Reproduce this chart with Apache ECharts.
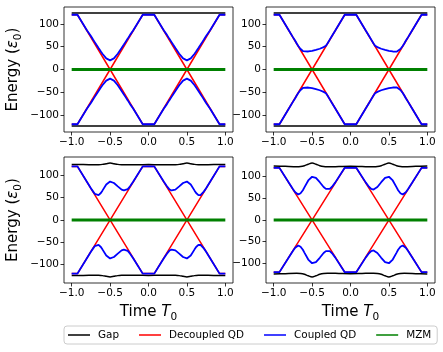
<!DOCTYPE html>
<html>
<head>
<meta charset="utf-8">
<script src="https://cdn.jsdelivr.net/npm/echarts@6/dist/echarts.min.js"></script>
<style>
  html, body { margin: 0; padding: 0; background: #fff; }
  #chart { width: 443px; height: 352px; }
</style>
</head>
<body>
<div id="chart"></div>
<script>
// time samples for the coupled QD branches
const timeGrid = [-1, -0.925, -0.8, -0.75, -0.72, -0.7, -0.68, -0.65, -0.62, -0.6, -0.55, -0.5, -0.45, -0.4, -0.35, -0.32, -0.3, -0.27, -0.24, -0.2, -0.075,
  0.075, 0.2, 0.24, 0.27, 0.3, 0.32, 0.35, 0.4, 0.45, 0.5, 0.55, 0.6, 0.62, 0.65, 0.68, 0.7, 0.72, 0.75, 0.8, 0.925, 1];

// decoupled QD (same in all panels)
const redTime = [-1, -0.925, -0.075, 0.075, 0.925, 1];
const redUp = [120, 120, -120, -120, 120, 120];
const redDown = [-120, -120, 120, 120, -120, -120];

// MZM
const mzmTime = [-1, 1];
const mzmValues = [0, 0];

// gap
const flatTime = [-1, 1];
const gapTopUp = [124, 124];
const gapTopDown = [-124, -124];
const gapTime = [-1, -0.85, -0.7, -0.65, -0.6, -0.55, -0.5, -0.45, -0.4, -0.35, -0.3, -0.15, 0, 0.15, 0.3, 0.35, 0.4, 0.45, 0.5, 0.55, 0.6, 0.65, 0.7, 0.85, 1];
const gapBLUp = [124, 124, 123.5, 123.8, 124.5, 126, 127.5, 126, 124.5, 123.8, 123.5, 123.8, 124, 123.8, 123.5, 123.8, 124.5, 126, 127.5, 126, 124.5, 123.8, 123.5, 124, 124];
const gapBLDown = [-124, -124, -123.5, -123.8, -124.5, -126, -127.5, -126, -124.5, -123.8, -123.5, -123.8, -124, -123.8, -123.5, -123.8, -124.5, -126, -127.5, -126, -124.5, -123.8, -123.5, -124, -124];
const gapBRUp = [124.5, 123.5, 122.5, 123, 125, 128.5, 131, 128.5, 125, 123, 122.5, 123, 123.5, 123, 122.5, 123, 125, 128.5, 131, 128.5, 125, 123, 122.5, 123.5, 124.5];
const gapBRDown = [-124.5, -123.5, -122.5, -123, -125, -128.5, -131, -128.5, -125, -123, -122.5, -123, -123.5, -123, -122.5, -123, -125, -128.5, -131, -128.5, -125, -123, -122.5, -123.5, -124.5];

// coupled QD
const coupledTLUp = [120, 120, 85.5, 73.4, 65.2, 60, 54.6, 46.9, 39.4, 34.6, 24.4, 20, 24.4, 34.6, 46.9, 54.6, 60, 67.7, 75.9, 85.5, 120,
  120, 85.5, 75.9, 67.7, 60, 54.6, 46.9, 34.6, 24.4, 20, 24.4, 34.6, 39.4, 46.9, 54.6, 60, 65.2, 73.4, 85.5, 120, 120];
const coupledTLDown = [-120, -120, -85.5, -73.4, -65.2, -60, -54.6, -46.9, -39.4, -34.6, -24.4, -20, -24.4, -34.6, -46.9, -54.6, -60, -67.7, -75.9, -85.5, -120,
  -120, -85.5, -75.9, -67.7, -60, -54.6, -46.9, -34.6, -24.4, -20, -24.4, -34.6, -39.4, -46.9, -54.6, -60, -65.2, -73.4, -85.5, -120, -120];
const coupledTRUp = [120, 120, 85, 71, 63, 57, 51.5, 45, 40.5, 39, 39.5, 41, 43, 45.5, 49, 52, 57, 65.5, 74, 85, 120,
  120, 85, 74, 65.5, 57, 52, 49, 45.5, 43, 41, 39.5, 39, 40.5, 45, 51.5, 57, 63, 71, 85, 120, 120];
const coupledTRDown = [-120, -120, -85, -71, -63, -57, -51.5, -45, -40.5, -39, -39.5, -41, -43, -45.5, -49, -52, -57, -65.5, -74, -85, -120,
  -120, -85, -74, -65.5, -57, -52, -49, -45.5, -43, -41, -39.5, -39, -40.5, -45, -51.5, -57, -63, -71, -85, -120, -120];
const coupledBLUp = [120, 120, 85, 71, 63.5, 58.5, 56, 55.7, 60.5, 65.7, 79.6, 86, 82.8, 75.2, 68, 66.1, 66.2, 69, 75.5, 85.5, 120,
  120, 85.5, 75.5, 69, 66.2, 66.1, 68, 75.2, 82.8, 86, 79.6, 65.7, 60.5, 55.7, 56, 58.5, 63.5, 71, 85, 120, 120];
const coupledBLDown = [-120, -120, -85, -71, -63.5, -58.5, -56, -55.7, -60.5, -65.7, -79.6, -86, -82.8, -75.2, -68, -66.1, -66.2, -69, -75.5, -85.5, -120,
  -120, -85.5, -75.5, -69, -66.2, -66.1, -68, -75.2, -82.8, -86, -79.6, -65.7, -60.5, -55.7, -56, -58.5, -63.5, -71, -85, -120, -120];
const coupledBRUp = [120, 120, 85, 71.5, 64, 60, 58.5, 61.5, 68.5, 75, 91, 99.5, 97, 87, 76, 71.5, 70, 71.5, 76.5, 86, 120,
  120, 86, 76.5, 71.5, 70, 71.5, 76, 87, 97, 99.5, 91, 75, 68.5, 61.5, 58.5, 60, 64, 71.5, 85, 120, 120];
const coupledBRDown = [-120, -120, -85, -71.5, -64, -60, -58.5, -61.5, -68.5, -75, -91, -99.5, -97, -87, -76, -71.5, -70, -71.5, -76.5, -86, -120,
  -120, -86, -76.5, -71.5, -70, -71.5, -76, -87, -97, -99.5, -91, -75, -68.5, -61.5, -58.5, -60, -64, -71.5, -85, -120, -120];

const xTicks = [-1, -0.5, 0, 0.5, 1];
const yTicks = [-100, -50, 0, 50, 100];

const FONT = 'DejaVu Sans';

const panels = [
  { grid: { left: 64, top: 7, width: 169, height: 125 }, yMax: 137, up: coupledTLUp, down: coupledTLDown,
    gapT: flatTime, gapUp: gapTopUp, gapDown: gapTopDown, xName: false, yName: true },
  { grid: { left: 266, top: 7, width: 169, height: 125 }, yMax: 137, up: coupledTRUp, down: coupledTRDown,
    gapT: flatTime, gapUp: gapTopUp, gapDown: gapTopDown, xName: false, yName: false },
  { grid: { left: 64, top: 157, width: 169, height: 126 }, yMax: 141, up: coupledBLUp, down: coupledBLDown,
    gapT: gapTime, gapUp: gapBLUp, gapDown: gapBLDown, xName: true, yName: true },
  { grid: { left: 266, top: 157, width: 169, height: 126 }, yMax: 145, up: coupledBRUp, down: coupledBRDown,
    gapT: gapTime, gapUp: gapBRUp, gapDown: gapBRDown, xName: true, yName: false }
];

function pairs(xs, ys) {
  return xs.map((x, i) => [x, ys[i]]);
}

function minus(s) {
  return String(s).replace('-', '\u2212');
}

const nameRich = {
  n: { fontFamily: FONT, fontSize: 15, color: '#000', lineHeight: 22 },
  i: { fontFamily: FONT, fontSize: 15, fontStyle: 'italic', color: '#000', lineHeight: 22 },
  s: { fontFamily: FONT, fontSize: 10.5, color: '#000', verticalAlign: 'bottom', lineHeight: 22 }
};

const grids = [], xAxes = [], yAxes = [], series = [];

panels.forEach((p, i) => {
  grids.push(Object.assign({ show: true, borderColor: '#000', borderWidth: 0.8, backgroundColor: '#fff' }, p.grid));

  xAxes.push({
    type: 'value', gridIndex: i, min: -1.1, max: 1.1, position: 'bottom',
    axisLine: { show: false, onZero: false },
    splitLine: { show: false },
    axisTick: { show: true, length: 3.5, inside: false, customValues: xTicks, lineStyle: { color: '#000', width: 0.8 } },
    axisLabel: { customValues: xTicks, margin: 5, color: '#000', fontFamily: FONT, fontSize: 10.5,
      formatter: v => minus(v.toFixed(1)) },
    name: p.xName ? '{n|Time }{i|T}{s|0}' : '',
    nameLocation: 'middle', nameGap: 18,
    nameTextStyle: { rich: nameRich }
  });

  yAxes.push({
    type: 'value', gridIndex: i, min: -p.yMax, max: p.yMax, position: 'left',
    axisLine: { show: false, onZero: false },
    splitLine: { show: false },
    axisTick: { show: true, length: 3.5, inside: false, customValues: yTicks, lineStyle: { color: '#000', width: 0.8 } },
    axisLabel: { customValues: yTicks, margin: 5, color: '#000', fontFamily: FONT, fontSize: 10.5,
      formatter: v => minus(v) },
    name: p.yName ? '{n|Energy (}{i|ε}{s|0}{n|)}' : '',
    nameLocation: 'middle', nameGap: 40, nameRotate: 90,
    nameTextStyle: { rich: nameRich }
  });

  const base = { type: 'line', xAxisIndex: i, yAxisIndex: i, symbol: 'none', animation: false };
  series.push(
    Object.assign({}, base, { name: 'Gap', data: pairs(p.gapT, p.gapUp), smooth: 0.3, lineStyle: { color: '#000', width: 1.5 }, itemStyle: { color: '#000' } }),
    Object.assign({}, base, { name: 'Gap', data: pairs(p.gapT, p.gapDown), smooth: 0.3, lineStyle: { color: '#000', width: 1.5 }, itemStyle: { color: '#000' } }),
    Object.assign({}, base, { name: 'Decoupled QD', data: pairs(redTime, redUp), lineStyle: { color: '#ff0000', width: 1.5 }, itemStyle: { color: '#ff0000' } }),
    Object.assign({}, base, { name: 'Decoupled QD', data: pairs(redTime, redDown), lineStyle: { color: '#ff0000', width: 1.5 }, itemStyle: { color: '#ff0000' } }),
    Object.assign({}, base, { name: 'Coupled QD', data: pairs(timeGrid, p.up), lineStyle: { color: '#0000ff', width: 1.8 }, itemStyle: { color: '#0000ff' } }),
    Object.assign({}, base, { name: 'Coupled QD', data: pairs(timeGrid, p.down), lineStyle: { color: '#0000ff', width: 1.8 }, itemStyle: { color: '#0000ff' } }),
    Object.assign({}, base, { name: 'MZM', data: pairs(mzmTime, mzmValues), lineStyle: { color: '#008000', width: 3 }, itemStyle: { color: '#008000' } })
  );
});

const chart = echarts.init(document.getElementById('chart'), null, { renderer: 'canvas' });
chart.setOption({
  animation: false,
  backgroundColor: '#fff',
  grid: grids,
  xAxis: xAxes,
  yAxis: yAxes,
  legend: {
    data: ['Gap', 'Decoupled QD', 'Coupled QD', 'MZM'],
    left: 64, top: 326,
    padding: [4, 6, 4, 4],
    icon: 'rect',
    itemWidth: 22, itemHeight: 1.5, itemGap: 20,
    borderColor: '#cccccc', borderWidth: 1, borderRadius: 3,
    textStyle: { fontFamily: FONT, fontSize: 10.4, color: '#000', padding: [0, 0, 0, 3], lineHeight: 10 }
  },
  series: series
});
</script>
</body>
</html>
